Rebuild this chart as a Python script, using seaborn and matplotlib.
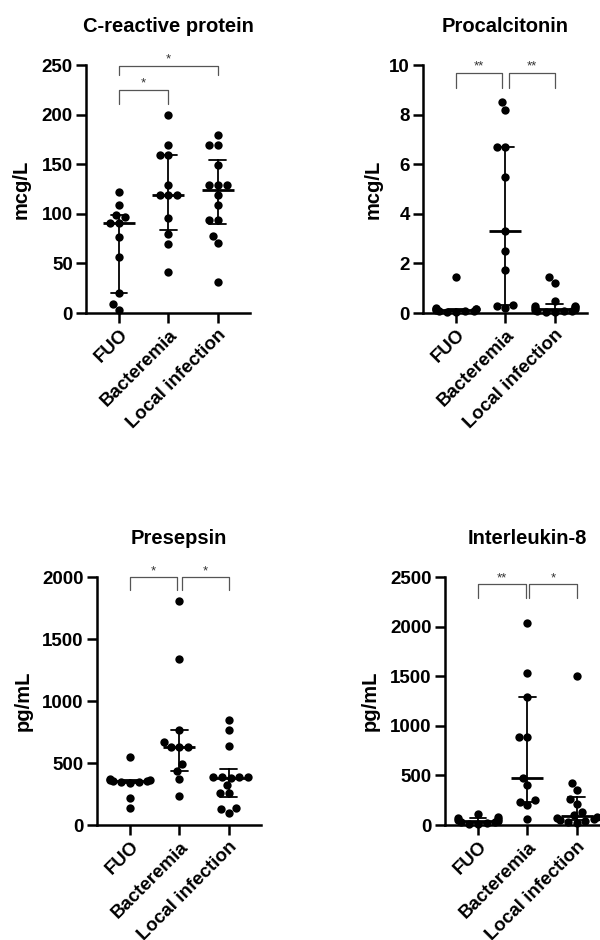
import numpy as np
import pandas as pd
import matplotlib.pyplot as plt
import seaborn as sns

sns.set_style('ticks')
plt.rcParams['font.family'] = ['Liberation Sans', 'DejaVu Sans']
plt.rcParams['font.weight'] = 'bold'
for key in ['text.color', 'axes.labelcolor', 'xtick.color', 'ytick.color', 'axes.edgecolor']:
    plt.rcParams[key] = 'black'

GROUPS = ['FUO', 'Bacteremia', 'Local infection']

crp_fuo = [122, 109, 99, 97, 91, 91, 77, 56, 20, 9, 3]
crp_bact = [200, 169, 159, 159, 129, 119, 119, 119, 96, 80, 70, 41]
crp_local = [179, 169, 169, 149, 129, 129, 129, 119, 109, 94, 94, 78, 71, 31]

pct_fuo = [1.45, 0.2, 0.18, 0.15, 0.15, 0.12, 0.1, 0.1, 0.08, 0.05, 0.05]
pct_bact = [8.5, 8.2, 6.7, 6.7, 5.5, 3.3, 2.5, 1.75, 0.34, 0.3, 0.2]
pct_local = [1.45, 1.2, 0.5, 0.3, 0.3, 0.25, 0.2, 0.15, 0.12, 0.1, 0.1, 0.08, 0.05, 0.05]

psp_fuo = [545, 370, 365, 360, 355, 355, 350, 345, 340, 215, 135]
psp_bact = [1810, 1340, 770, 670, 630, 630, 630, 490, 435, 370, 235]
psp_local = [846, 770, 639, 390, 390, 385, 385, 380, 320, 255, 255, 135, 130, 100]

il8_fuo = [110, 80, 70, 60, 50, 40, 35, 30, 20, 15, 10]
il8_bact = [2040, 1530, 1290, 890, 890, 470, 400, 250, 235, 200, 57]
il8_local = [1500, 420, 350, 260, 215, 130, 100, 80, 70, 60, 50, 40, 30, 20]

# significance brackets: (x0, x1, top, leg end, label, label y)
crp_sig = [(0, 1, 225, 211, '*', 231), (0, 2, 249, 240, '*', 256)]
pct_sig = [(0, 0.93, 9.66, 9.08, '**', 9.95), (1.07, 2, 9.66, 9.08, '**', 9.95)]
psp_sig = [(0, 0.95, 2000, 1893, '*', 2045), (1.05, 2, 2000, 1893, '*', 2045)]
il8_sig = [(0, 0.96, 2433, 2292, '**', 2490), (1.04, 2, 2433, 2292, '*', 2490)]


def prism_iqr(v):
    return (np.percentile(v, 25, method='weibull'),
            np.percentile(v, 75, method='weibull'))


def draw_panel(ax, title, unit, fuo, bact, local, ymax, ystep, sig, label_x):
    df = pd.DataFrame({
        'group': ['FUO'] * len(fuo) + ['Bacteremia'] * len(bact) + ['Local infection'] * len(local),
        'value': fuo + bact + local,
    })
    sns.swarmplot(data=df, x='group', y='value', order=GROUPS, color='black',
                  size=6, ax=ax, clip_on=False, zorder=3)
    sns.pointplot(data=df, x='group', y='value', order=GROUPS, estimator=np.median,
                  errorbar=prism_iqr, capsize=0.34, color='black', markers='_',
                  markersize=23, markeredgewidth=2, linestyle='none',
                  err_kws={'linewidth': 1.3}, ax=ax)
    for c in ax.collections + ax.lines:
        c.set_clip_on(False)

    for x0, x1, top, leg, txt, ty in sig:
        ax.plot([x0, x0, x1, x1], [leg, top, top, leg], color='#555555', lw=0.9, clip_on=False)
        ax.text((x0 + x1) / 2, ty, txt, ha='center', va='center', fontsize=9.5,
                color='#333333', fontweight='normal')

    ax.set_xlim(-0.67, 2.65)
    ax.set_ylim(0, ymax)
    ax.set_yticks(np.arange(0, ymax + ystep / 2, ystep))
    ax.set_xticks(range(3))
    ax.set_xticklabels(GROUPS, rotation=45, ha='right', va='top', rotation_mode='anchor')
    ax.tick_params(labelsize=13.5, width=1.8, length=7, direction='out', pad=2.5)
    for lab in ax.get_xticklabels() + ax.get_yticklabels():
        lab.set_fontweight('bold')
    ax.set_xlabel('')
    ax.set_ylabel(unit, fontsize=14.5, fontweight='bold')
    ax.yaxis.set_label_coords(label_x, 0.5)
    ax.set_title(title, fontsize=14.5, fontweight='bold', pad=24)
    sns.despine(ax=ax)
    for s in ['left', 'bottom']:
        ax.spines[s].set_linewidth(1.8)


fig = plt.figure(figsize=(6, 9.4), dpi=100)
w, h = 164 / 600, 248 / 940
ax1 = fig.add_axes([86 / 600, 1 - 313 / 940, w, h])
ax2 = fig.add_axes([423 / 600, 1 - 313 / 940, w, h])
ax3 = fig.add_axes([97 / 600, 1 - 825 / 940, w, h])
ax4 = fig.add_axes([445 / 600, 1 - 825 / 940, w, h])

draw_panel(ax1, 'C-reactive protein', 'mcg/L', crp_fuo, crp_bact, crp_local, 250, 50, crp_sig, -0.34)
draw_panel(ax2, 'Procalcitonin', 'mcg/L', pct_fuo, pct_bact, pct_local, 10, 2, pct_sig, -0.244)
draw_panel(ax3, 'Presepsin', 'pg/mL', psp_fuo, psp_bact, psp_local, 2000, 500, psp_sig, -0.39)
draw_panel(ax4, 'Interleukin-8', 'pg/mL', il8_fuo, il8_bact, il8_local, 2500, 500, il8_sig, -0.40)

fig.savefig('out.png', dpi=100, facecolor='white')
